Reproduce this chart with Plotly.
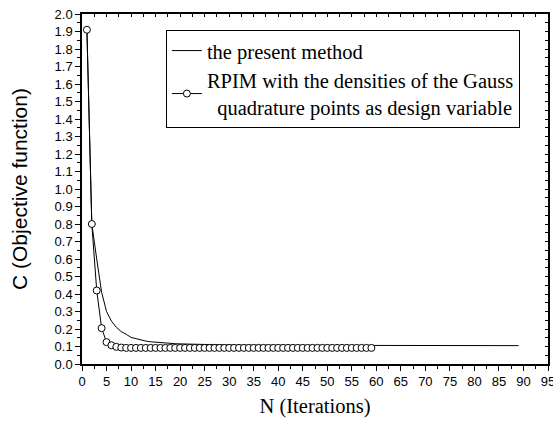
import plotly.graph_objects as go

# Present method (line only)
n_present = list(range(1, 90))
c_present_head = [1.91, 0.80, 0.60, 0.41, 0.30, 0.245, 0.21, 0.185, 0.17, 0.152,
                  0.145, 0.137, 0.131, 0.127, 0.124, 0.122, 0.120, 0.118, 0.116, 0.115]
c_present_tail = [0.114, 0.113, 0.112, 0.111, 0.110, 0.110, 0.109, 0.109, 0.108, 0.108,
                  0.108, 0.107, 0.107, 0.107, 0.107, 0.107, 0.106, 0.106, 0.106, 0.106,
                  0.106, 0.106, 0.106, 0.106, 0.106, 0.106, 0.106, 0.106, 0.106, 0.106,
                  0.106, 0.106, 0.106, 0.106, 0.106, 0.106, 0.106, 0.106, 0.106, 0.106,
                  0.106, 0.106, 0.106, 0.105, 0.105, 0.105, 0.105, 0.105, 0.105, 0.105,
                  0.105, 0.105, 0.105, 0.105, 0.105, 0.105, 0.105, 0.105, 0.105, 0.105,
                  0.105, 0.105, 0.105, 0.105, 0.105, 0.105, 0.105, 0.105, 0.105]
c_present = c_present_head + c_present_tail

# RPIM with Gauss point densities (line + circles)
n_rpim = list(range(1, 60))
c_rpim_head = [1.91, 0.80, 0.42, 0.205, 0.125, 0.107, 0.098, 0.094]
c_rpim_tail = [0.092] * 51
c_rpim = c_rpim_head + c_rpim_tail

x_ticks = list(range(0, 100, 5))
y_ticks = [round(i * 0.1, 1) for i in range(0, 21)]

fig = go.Figure()
fig.add_trace(go.Scatter(
    x=n_present, y=c_present, mode="lines", name="the present method",
    line=dict(color="black", width=1),
))
fig.add_trace(go.Scatter(
    x=n_rpim, y=c_rpim, mode="lines+markers",
    name="RPIM with the densities of the Gauss<br>  quadrature points as design variable",
    line=dict(color="black", width=1),
    marker=dict(symbol="circle", size=7, color="white",
                line=dict(color="black", width=1)),
))
# invisible trace to hold top/right mirror axes
fig.add_trace(go.Scatter(x=[0], y=[0], xaxis="x2", yaxis="y2", mode="markers",
                         marker=dict(opacity=0), showlegend=False, hoverinfo="skip"))

serif = "Liberation Serif, Times New Roman, serif"
sans = "Liberation Sans, Arial, sans-serif"

fig.update_layout(
    width=553, height=421,
    margin=dict(l=82, r=5, t=14, b=57),
    paper_bgcolor="white", plot_bgcolor="white",
    showlegend=True,
    legend=dict(
        x=0.18, y=0.955, xanchor="left", yanchor="top",
        bgcolor="white", bordercolor="black", borderwidth=1,
        font=dict(family=serif, size=20.5, color="black"),
        tracegroupgap=0, itemwidth=30,
    ),
    xaxis=dict(
        range=[0, 95], tickmode="array", tickvals=x_ticks,
        ticktext=[str(v) for v in x_ticks],
        ticks="outside", ticklen=5, tickwidth=1, tickcolor="black",
        ticklabeloverflow="allow", automargin=False,
        minor=dict(dtick=2.5, tick0=0, ticks="outside", ticklen=3, tickwidth=1, tickcolor="black"),
        showline=True, linecolor="black", linewidth=1.5,
        showgrid=False, zeroline=False,
        tickfont=dict(family=sans, size=13, color="black"),
        title=dict(text="N (Iterations)", font=dict(family=serif, size=20.5, color="black"), standoff=10),
    ),
    yaxis=dict(
        range=[0, 2.0], tickmode="array", tickvals=y_ticks,
        ticktext=[f"{v:.1f}" for v in y_ticks],
        ticks="outside", ticklen=5, tickwidth=1, tickcolor="black",
        minor=dict(dtick=0.05, tick0=0, ticks="outside", ticklen=3, tickwidth=1, tickcolor="black"),
        showline=True, linecolor="black", linewidth=1.5,
        showgrid=False, zeroline=False,
        tickfont=dict(family=sans, size=13, color="black"),
        title=dict(text="C (Objective function)", font=dict(family=sans, size=21, color="black"), standoff=21),
    ),
    xaxis2=dict(
        range=[0, 95], overlaying="x", side="top", anchor="y2",
        dtick=2.5, tick0=0, ticks="inside", ticklen=3, tickwidth=1, tickcolor="black",
        showticklabels=False, showline=True, linecolor="black", linewidth=1.5,
        showgrid=False, zeroline=False,
    ),
    yaxis2=dict(
        range=[0, 2.0], overlaying="y", side="right", anchor="x2",
        dtick=0.05, tick0=0, ticks="inside", ticklen=3, tickwidth=1, tickcolor="black",
        showticklabels=False, showline=True, linecolor="black", linewidth=1.5,
        showgrid=False, zeroline=False,
    ),
)

fig.write_html("out.html")
